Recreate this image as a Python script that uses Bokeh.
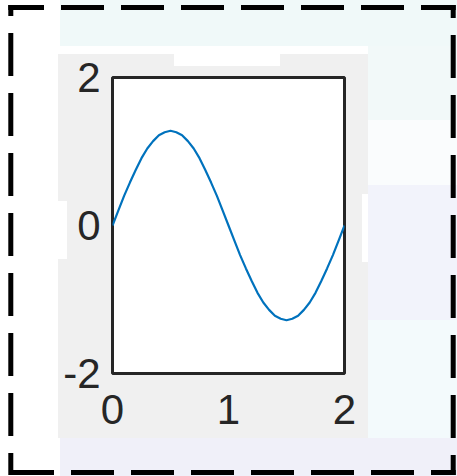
from urllib.parse import quote

from bokeh.plotting import figure
from bokeh.models import FixedTicker
from bokeh.embed import file_html
from bokeh.resources import INLINE

# ---- data ----
x_vals = [0.00, 0.05, 0.10, 0.15, 0.20, 0.25, 0.30, 0.35, 0.40, 0.45,
          0.50, 0.55, 0.60, 0.65, 0.70, 0.75, 0.80, 0.85, 0.90, 0.95,
          1.00, 1.05, 1.10, 1.15, 1.20, 1.25, 1.30, 1.35, 1.40, 1.45,
          1.50, 1.55, 1.60, 1.65, 1.70, 1.75, 1.80, 1.85, 1.90, 1.95, 2.00]
y_vals = [0.00, 0.20, 0.40, 0.58, 0.75, 0.91, 1.04, 1.14, 1.22, 1.26,
          1.28, 1.26, 1.22, 1.14, 1.04, 0.91, 0.75, 0.58, 0.40, 0.20,
          0.00, -0.20, -0.40, -0.58, -0.75, -0.91, -1.04, -1.14, -1.22, -1.26,
          -1.28, -1.26, -1.22, -1.14, -1.04, -0.91, -0.75, -0.58, -0.40, -0.20, 0.00]
x_ticks = [0, 1, 2]
y_ticks = [-2, 0, 2]
x_tick_labels = {0: "0", 1: "1", 2: "2"}
y_tick_labels = {-2: "-2", 0: "0", 2: "2"}

W, H = 457, 476
FL, FT, FW, FH = 112, 77, 232, 296
TEXT = "#262626"
FONT = "Liberation Sans"

# ---- page decoration (grey panel, faint backdrop, dashed frame) as a CSS background ----
dash = "stroke='black' stroke-width='5' stroke-dasharray='43 17' fill='none'"
deco = (
    f"<svg xmlns='http://www.w3.org/2000/svg' width='{W}' height='{H}'>"
    f"<rect x='0' y='0' width='{W}' height='{H}' fill='white'/>"
    "<rect x='60' y='0' width='397' height='46' fill='#f0f9f9'/>"
    "<rect x='368' y='46' width='89' height='74' fill='#f2f9f9'/>"
    "<rect x='368' y='120' width='89' height='65' fill='#fafcfd'/>"
    "<rect x='368' y='185' width='89' height='135' fill='#f2f3fb'/>"
    "<rect x='368' y='320' width='89' height='118' fill='#f3fafc'/>"
    "<rect x='60' y='438' width='397' height='38' fill='#f0f0f9'/>"
    "<rect x='58' y='54' width='310' height='384' fill='#f0f0f0'/>"
    "<rect x='174' y='54' width='106' height='12' fill='white'/>"
    "<rect x='58' y='201' width='9' height='58' fill='white'/>"
    "<rect x='362' y='194' width='6' height='68' fill='white'/>"
    f"<line x1='8.3' y1='7.5' x2='455.7' y2='7.5' {dash} stroke-dashoffset='7.3'/>"
    f"<line x1='453.2' y1='5' x2='453.2' y2='475' {dash} stroke-dashoffset='30'/>"
    f"<line x1='8.3' y1='472.5' x2='455.7' y2='472.5' {dash} stroke-dashoffset='57.3'/>"
    f"<line x1='10.8' y1='5' x2='10.8' y2='475' {dash} stroke-dashoffset='32'/>"
    "</svg>"
)
bg = f'url("data:image/svg+xml,{quote(deco)}")'

p = figure(width=W, height=H, output_backend="svg", toolbar_location=None,
           x_range=(0, 2), y_range=(-2, 2),
           min_border_left=FL, min_border_top=FT,
           min_border_right=W - FL - FW, min_border_bottom=H - FT - FH,
           styles={"background-image": bg, "background-repeat": "no-repeat"})

p.border_fill_color = None
p.background_fill_color = "white"
p.outline_line_color = TEXT
p.outline_line_width = 3
p.grid.visible = False

for ax in (p.xaxis[0], p.yaxis[0]):
    ax.axis_line_color = None
    ax.major_tick_line_color = None
    ax.minor_tick_line_color = None
    ax.major_tick_in = 0
    ax.major_tick_out = 0
    ax.major_label_text_font = FONT
    ax.major_label_text_font_size = "42px"
    ax.major_label_text_color = TEXT

p.xaxis.ticker = FixedTicker(ticks=x_ticks)
p.yaxis.ticker = FixedTicker(ticks=y_ticks)
p.xaxis.major_label_overrides = x_tick_labels
p.yaxis.major_label_overrides = y_tick_labels
p.xaxis.major_label_standoff = 21
p.yaxis.major_label_standoff = 12

p.line(x_vals, y_vals, line_color="#0072BD", line_width=2.2)

open("out.html", "w").write(file_html(p, INLINE))
